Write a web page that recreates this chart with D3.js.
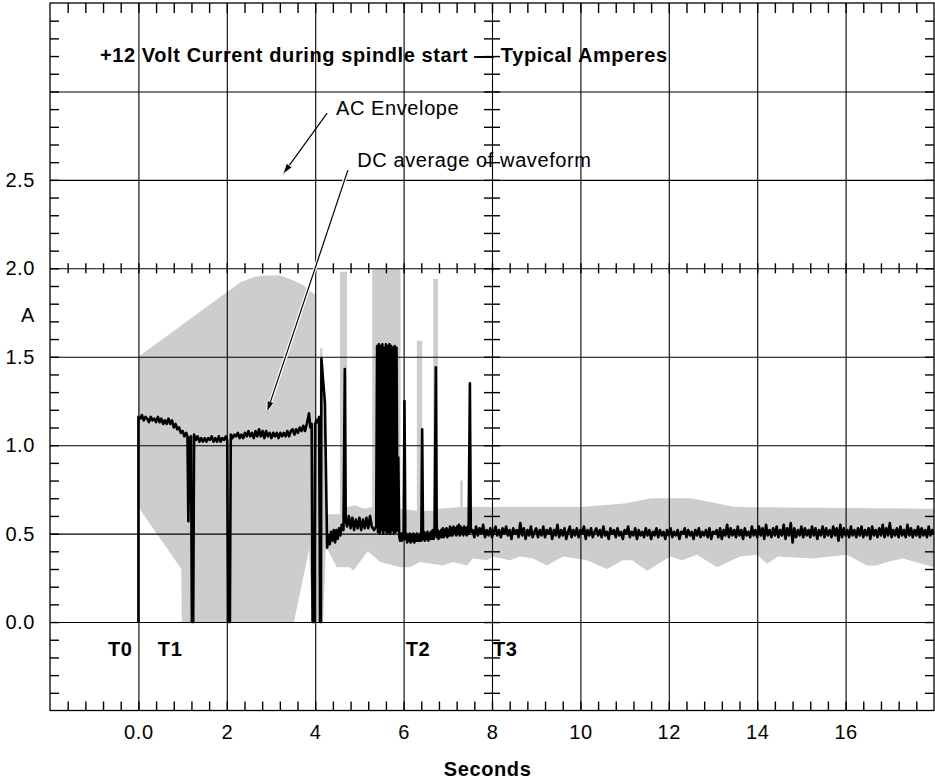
<!DOCTYPE html>
<html>
    <head>
        <title>+12 Volt Current during spindle start</title>
        <script src="https://d3js.org/d3.v7.min.js"></script>

        <style type="text/css">
        body {
          margin: 0;
          background: #ffffff;
        }

        svg text {
          font-family: "Liberation Sans", Arial, Helvetica, sans-serif;
          font-size: 20px;
          letter-spacing: 0.6px;
          fill: #000000;
        }

        svg .bold {
          font-weight: bold;
        }

        svg .envelope {
          fill: #cdcdcd;
          stroke: none;
        }

        svg .dc {
          fill: none;
          stroke: #000000;
          stroke-width: 2.6;
          stroke-linejoin: round;
        }

        svg .grid line {
          stroke: #000000;
          stroke-width: 1.1;
        }

        svg .minor line {
          stroke: #000000;
          stroke-width: 1.4;
        }
        </style>
    </head>

    <body>

        <script type="text/javascript">

            // axis labels
            var xLabelTicks = [0, 2, 4, 6, 8, 10, 12, 14, 16];
            var xLabelText = ["0.0", "2", "4", "6", "8", "10", "12", "14", "16"];
            var yLabelTicks = [0, 0.5, 1.0, 1.5, 2.0, 2.5];
            var xGrid = [0, 2, 4, 6, 8, 10, 12, 14, 16];
            var yGrid = [0, 0.5, 1.0, 1.5, 2.0, 2.5, 3.0];

            // time markers
            var markerNames = ["T0", "T1", "T2", "T3"];
            var markerTimes = [-0.69, 0.44, 6.05, 8.02];

            // AC envelope, upper edge [seconds, amps]
            var envUpper = [
              [0, 1.5], [2.3, 1.92], [2.6, 1.95], [2.82, 1.96], [3.2, 1.96], [3.43, 1.94],
              [3.7, 1.91], [3.95, 1.86], [4.0, 1.85], [4.0, 1.16], [4.1, 1.16], [4.11, 1.55],
              [4.16, 1.55], [4.22, 1.2], [4.26, 0.61], [4.5, 0.61], [4.56, 0.61], [4.56, 1.98],
              [4.72, 1.98], [4.72, 0.65], [4.9, 0.66], [5.1, 0.64], [5.29, 0.65], [5.29, 2.0],
              [5.93, 2.0], [5.93, 0.64], [6.3, 0.63], [6.3, 1.59], [6.42, 1.59], [6.42, 0.63],
              [6.67, 0.63], [6.67, 1.94], [6.78, 1.94], [6.78, 0.64], [7.28, 0.65], [7.28, 0.8],
              [7.34, 0.8], [7.34, 0.65], [8, 0.65], [10, 0.65], [11, 0.67], [11.6, 0.7],
              [12.5, 0.7], [13.5, 0.65], [18, 0.64]
            ];

            // AC envelope, lower edge [seconds, amps]
            var envLower = [
              [0, 0.65], [0.97, 0.3], [0.98, 0], [3.52, 0], [3.86, 0.41], [3.93, 0],
              [4.18, 0], [4.24, 0.42], [4.28, 0.41], [4.49, 0.31], [4.79, 0.31], [4.86, 0.29],
              [5.19, 0.4], [5.47, 0.34], [5.92, 0.31], [6.14, 0.31], [6.37, 0.34], [6.89, 0.32],
              [7.12, 0.34], [7.43, 0.32], [7.57, 0.36], [7.89, 0.35], [8.02, 0.37], [8.41, 0.35],
              [8.63, 0.37], [8.93, 0.36], [9.24, 0.32], [9.61, 0.37], [10.15, 0.35], [10.6, 0.3],
              [10.96, 0.35], [11.17, 0.35], [11.51, 0.29], [12.03, 0.37], [12.3, 0.35], [12.64, 0.38],
              [13.09, 0.31], [13.61, 0.37], [14.0, 0.38], [14.22, 0.33], [14.47, 0.37], [15.26, 0.36],
              [16.03, 0.38], [16.48, 0.32], [16.71, 0.32], [16.94, 0.34], [17.3, 0.36], [18, 0.31]
            ];

            // DC average, start-up part [seconds, amps]
            var dcStartup = [
              [0, 0], [0, 1.16], [0.04, 1.15], [0.08, 1.17], [0.12, 1.14], [0.16, 1.16], [0.2, 1.15],
              [0.24, 1.13], [0.28, 1.16], [0.32, 1.14], [0.36, 1.15], [0.4, 1.13], [0.44, 1.16],
              [0.48, 1.13], [0.52, 1.15], [0.56, 1.12], [0.6, 1.14], [0.64, 1.12], [0.68, 1.15],
              [0.72, 1.12], [0.76, 1.14], [0.8, 1.1], [0.84, 1.12], [0.88, 1.09], [0.92, 1.1],
              [0.96, 1.07], [1.0, 1.08], [1.04, 1.05], [1.08, 1.07], [1.11, 1.05], [1.13, 0.57],
              [1.16, 1.04], [1.19, 1.05], [1.21, 0], [1.24, 0], [1.26, 1.06], [1.3, 1.03],
              [1.34, 1.05], [1.38, 1.02], [1.42, 1.04], [1.46, 1.02], [1.5, 1.04], [1.54, 1.02],
              [1.58, 1.04], [1.62, 1.03], [1.66, 1.05], [1.7, 1.02], [1.74, 1.04], [1.78, 1.02],
              [1.82, 1.05], [1.86, 1.02], [1.9, 1.04], [1.94, 1.03], [1.98, 1.05], [2.01, 1.03],
              [2.03, 0], [2.07, 0], [2.09, 1.06], [2.13, 1.04], [2.17, 1.06], [2.21, 1.05],
              [2.25, 1.07], [2.29, 1.04], [2.33, 1.06], [2.37, 1.04], [2.41, 1.07], [2.45, 1.05],
              [2.49, 1.08], [2.53, 1.05], [2.57, 1.07], [2.61, 1.04], [2.65, 1.08], [2.69, 1.05],
              [2.73, 1.09], [2.77, 1.05], [2.81, 1.08], [2.85, 1.04], [2.89, 1.08], [2.93, 1.05],
              [2.97, 1.07], [3.01, 1.04], [3.05, 1.07], [3.09, 1.05], [3.13, 1.07], [3.17, 1.04],
              [3.21, 1.07], [3.25, 1.05], [3.29, 1.07], [3.33, 1.05], [3.37, 1.08], [3.41, 1.05],
              [3.45, 1.08], [3.49, 1.09], [3.53, 1.06], [3.57, 1.09], [3.61, 1.07], [3.65, 1.1],
              [3.69, 1.08], [3.73, 1.11], [3.77, 1.08], [3.81, 1.12], [3.86, 1.18], [3.89, 1.1],
              [3.92, 1.12], [3.94, 0], [3.98, 0], [4.0, 1.12], [4.03, 1.14], [4.06, 1.13],
              [4.09, 1.16], [4.11, 0], [4.13, 0], [4.14, 1.49], [4.22, 1.24], [4.27, 0.42],
              [4.3, 0.49], [4.33, 0.44], [4.36, 0.51], [4.39, 0.46], [4.42, 0.52], [4.45, 0.45],
              [4.48, 0.52], [4.51, 0.47], [4.54, 0.53], [4.57, 0.49], [4.6, 0.55], [4.64, 0.52],
              [4.67, 1.43], [4.69, 0.58], [4.72, 0.54], [4.76, 0.6], [4.8, 0.53], [4.84, 0.59],
              [4.88, 0.52], [4.92, 0.58], [4.96, 0.53], [5.0, 0.59], [5.04, 0.52], [5.08, 0.58],
              [5.12, 0.53], [5.16, 0.59], [5.2, 0.53], [5.24, 0.6], [5.28, 0.54], [5.33, 0.52],
              [5.38, 0.54], [5.4, 1.56], [5.42, 0.51], [5.44, 1.57], [5.46, 0.5], [5.48, 1.56],
              [5.5, 0.52], [5.52, 1.57], [5.54, 0.5], [5.56, 1.55], [5.58, 0.52], [5.6, 1.57],
              [5.62, 0.5], [5.64, 1.56], [5.66, 0.51], [5.68, 1.57], [5.7, 0.5], [5.72, 1.56],
              [5.74, 0.52], [5.76, 1.55], [5.78, 0.5], [5.8, 1.56], [5.82, 0.51], [5.84, 1.55],
              [5.86, 0.52], [5.88, 0.93], [5.9, 0.49], [5.92, 0.46], [5.94, 0.5], [5.96, 0.46],
              [5.98, 0.5], [6.0, 0.47], [6.02, 1.25], [6.04, 0.47], [6.06, 0.5], [6.08, 0.45],
              [6.1, 0.49], [6.12, 0.46], [6.14, 0.5], [6.16, 0.45], [6.18, 0.49], [6.2, 0.46],
              [6.22, 0.5], [6.24, 0.45], [6.26, 0.49], [6.28, 0.46], [6.3, 0.5], [6.32, 0.46],
              [6.34, 0.49], [6.36, 0.46], [6.38, 0.5], [6.4, 0.46], [6.42, 1.09], [6.44, 0.47],
              [6.46, 0.51], [6.48, 0.46], [6.5, 0.5], [6.52, 0.47], [6.54, 0.51], [6.56, 0.46],
              [6.58, 0.5], [6.6, 0.47], [6.62, 0.51], [6.64, 0.47], [6.66, 0.52], [6.68, 0.47],
              [6.7, 0.51], [6.73, 1.44], [6.75, 0.48], [6.77, 0.52], [6.79, 0.47], [6.81, 0.51],
              [6.83, 0.48], [6.85, 0.52], [6.87, 0.48], [6.89, 0.53], [6.91, 0.48], [6.93, 0.52],
              [6.95, 0.49], [6.97, 0.53], [6.99, 0.48], [7.01, 0.52], [7.03, 0.49], [7.05, 0.54],
              [7.07, 0.49], [7.09, 0.53], [7.11, 0.49], [7.13, 0.54], [7.15, 0.5], [7.17, 0.53],
              [7.19, 0.49], [7.21, 0.54], [7.23, 0.5], [7.25, 0.55], [7.27, 0.49], [7.29, 0.54],
              [7.31, 0.5], [7.33, 0.53], [7.35, 0.49], [7.37, 0.54], [7.39, 0.5], [7.41, 0.53],
              [7.43, 0.49], [7.45, 0.54], [7.47, 0.5], [7.5, 1.35], [7.52, 0.51]
            ];

            // DC average, running part [seconds, amps]
            var dcRunning = [
              [7.56, .52], [7.60, .48], [7.64, .54], [7.68, .49], [7.72, .53], [7.76, .50], [7.80, .55], [7.84, .48], [7.88, .52], [7.92, .49],
              [7.96, .53], [8.00, .48], [8.04, .51], [8.08, .54], [8.12, .49], [8.16, .52], [8.20, .48], [8.24, .53], [8.28, .50], [8.32, .54],
              [8.36, .49], [8.40, .52], [8.44, .47], [8.48, .53], [8.52, .50], [8.56, .52], [8.60, .48], [8.64, .56], [8.68, .49], [8.72, .53],
              [8.76, .47], [8.80, .52], [8.84, .49], [8.88, .54], [8.92, .48], [8.96, .51], [9.00, .53], [9.04, .48], [9.08, .52], [9.12, .49],
              [9.16, .54], [9.20, .48], [9.24, .52], [9.28, .50], [9.32, .53], [9.36, .47], [9.40, .52], [9.44, .49], [9.48, .55], [9.52, .48],
              [9.56, .52], [9.60, .49], [9.64, .53], [9.68, .47], [9.72, .51], [9.76, .54], [9.80, .48], [9.84, .52], [9.88, .49], [9.92, .53],
              [9.96, .48], [10.00, .52], [10.04, .50], [10.08, .54], [10.12, .47], [10.16, .52], [10.20, .49], [10.24, .53], [10.28, .48], [10.32, .51],
              [10.36, .53], [10.40, .49], [10.44, .52], [10.48, .48], [10.52, .54], [10.56, .49], [10.60, .51], [10.64, .47], [10.68, .53], [10.72, .50],
              [10.76, .52], [10.80, .48], [10.84, .53], [10.88, .49], [10.92, .51], [10.96, .47], [11.00, .52], [11.04, .50], [11.08, .54], [11.12, .48],
              [11.16, .51], [11.20, .49], [11.24, .53], [11.28, .47], [11.32, .52], [11.36, .49], [11.40, .51], [11.44, .48], [11.48, .53], [11.52, .49],
              [11.56, .52], [11.60, .47], [11.64, .51], [11.68, .49], [11.72, .53], [11.76, .48], [11.80, .52], [11.84, .49], [11.88, .51], [11.92, .47],
              [11.96, .52], [12.00, .49], [12.04, .53], [12.08, .48], [12.12, .51], [12.16, .49], [12.20, .52], [12.24, .47], [12.28, .51], [12.32, .50],
              [12.36, .53], [12.40, .48], [12.44, .52], [12.48, .49], [12.52, .51], [12.56, .47], [12.60, .52], [12.64, .49], [12.68, .53], [12.72, .48],
              [12.76, .51], [12.80, .49], [12.84, .52], [12.88, .48], [12.92, .53], [12.96, .47], [13.00, .51], [13.04, .50], [13.08, .52], [13.12, .48],
              [13.16, .53], [13.20, .47], [13.24, .52], [13.28, .49], [13.32, .55], [13.36, .48], [13.40, .53], [13.44, .49], [13.48, .52], [13.52, .48],
              [13.56, .54], [13.60, .49], [13.64, .52], [13.68, .47], [13.72, .53], [13.76, .49], [13.80, .51], [13.84, .48], [13.88, .54], [13.92, .49],
              [13.96, .52], [14.00, .48], [14.04, .54], [14.08, .49], [14.12, .53], [14.16, .47], [14.20, .55], [14.24, .49], [14.28, .52], [14.32, .48],
              [14.36, .53], [14.40, .49], [14.44, .54], [14.48, .48], [14.52, .52], [14.56, .49], [14.60, .55], [14.64, .47], [14.68, .53], [14.72, .49],
              [14.76, .56], [14.80, .45], [14.84, .53], [14.88, .48], [14.92, .52], [14.96, .49], [15.00, .54], [15.04, .48], [15.08, .53], [15.12, .49],
              [15.16, .52], [15.20, .48], [15.24, .54], [15.28, .49], [15.32, .53], [15.36, .47], [15.40, .52], [15.44, .49], [15.48, .54], [15.52, .48],
              [15.56, .53], [15.60, .49], [15.64, .52], [15.68, .48], [15.72, .54], [15.76, .49], [15.80, .53], [15.84, .46], [15.88, .55], [15.92, .48],
              [15.96, .53], [16.00, .49], [16.04, .52], [16.08, .48], [16.12, .54], [16.16, .49], [16.20, .52], [16.24, .48], [16.28, .53], [16.32, .49],
              [16.36, .54], [16.40, .48], [16.44, .52], [16.48, .49], [16.52, .53], [16.56, .47], [16.60, .54], [16.64, .49], [16.68, .52], [16.72, .48],
              [16.76, .53], [16.80, .49], [16.84, .55], [16.88, .48], [16.92, .53], [16.96, .49], [17.00, .56], [17.04, .48], [17.08, .52], [17.12, .49],
              [17.16, .53], [17.20, .48], [17.24, .54], [17.28, .49], [17.32, .52], [17.36, .48], [17.40, .55], [17.44, .49], [17.48, .53], [17.52, .48],
              [17.56, .52], [17.60, .49], [17.64, .54], [17.68, .48], [17.72, .53], [17.76, .49], [17.80, .52], [17.84, .48], [17.88, .54], [17.92, .49],
              [17.96, .52], [18.00, .50]
            ];

            var left = 50, right = 934, plotTop = 3, bottom = 710.5;

            var svg = d3.select("body")
                        .append("svg")
                        .attr("width", 935)
                        .attr("height", 782);

            var x = d3.scaleLinear().domain([-2, 18]).range([left, right]);
            var y = d3.scaleLinear().domain([-0.5, 3.5]).range([bottom, plotTop]);

            var defs = svg.append("defs");
            defs.append("clipPath")
                .attr("id", "plot")
                .append("rect")
                .attr("x", left)
                .attr("y", plotTop)
                .attr("width", right - left)
                .attr("height", bottom - plotTop);

            defs.append("marker")
                .attr("id", "head")
                .attr("viewBox", "0 -5 12 10")
                .attr("refX", 11)
                .attr("refY", 0)
                .attr("markerUnits", "userSpaceOnUse")
                .attr("markerWidth", 12)
                .attr("markerHeight", 10)
                .attr("orient", "auto")
                .append("path")
                .attr("d", "M0,-3.5L11,0L0,3.5Z")
                .attr("fill", "#000")
                .attr("stroke", "#fff")
                .attr("stroke-width", 0.8);

            var line = d3.line()
                         .x(function(d) { return x(d[0]); })
                         .y(function(d) { return y(d[1]); });

            // grey AC envelope
            svg.append("path")
                .attr("class", "envelope")
                .attr("clip-path", "url(#plot)")
                .attr("d", line(envUpper.concat(envLower.slice().reverse())) + "Z");

            // major grid
            svg.append("g")
                .attr("class", "grid")
                .attr("transform", "translate(0," + bottom + ")")
                .call(d3.axisBottom(x).tickValues(xGrid).tickSize(-(bottom - plotTop)).tickFormat(""))
                .call(function(g) { g.select(".domain").remove(); });

            svg.append("g")
                .attr("class", "grid")
                .attr("transform", "translate(" + left + ",0)")
                .call(d3.axisLeft(y).tickValues(yGrid).tickSize(-(right - left)).tickFormat(""))
                .call(function(g) { g.select(".domain").remove(); });

            // minor tick positions: every 0.4 s and every 0.1 A
            var minorX = [];
            for (var i = 1; i < 50; i++) {
              minorX.push(Math.round((-2 + i * 0.4) * 10) / 10);
            }
            var minorY = [];
            for (var j = 1; j < 40; j++) {
              minorY.push(Math.round((-0.5 + j * 0.1) * 10) / 10);
            }

            // minor ticks, built the same way as the major grid
            function minorAxis(axis, tx, ty) {
              svg.append("g")
                  .attr("class", "minor")
                  .attr("transform", "translate(" + tx + "," + ty + ")")
                  .call(axis.tickSizeOuter(0).tickFormat(""))
                  .call(function(g) { g.select(".domain").remove(); });
            }

            minorAxis(d3.axisTop(x).tickValues(minorX).tickSizeInner(-10), 0, plotTop);
            minorAxis(d3.axisBottom(x).tickValues(minorX).tickSizeInner(-9), 0, bottom);
            minorAxis(d3.axisBottom(x).tickValues(minorX).tickSizeInner(-10), 0, y(2.0) + 5);
            minorAxis(d3.axisLeft(y).tickValues(minorY).tickSizeInner(-9), left, 0);
            minorAxis(d3.axisRight(y).tickValues(minorY).tickSizeInner(-9), right, 0);
            minorAxis(d3.axisRight(y).tickValues(minorY).tickSizeInner(16), x(8) - 8, 0);

            // frame
            svg.append("rect")
                .attr("x", left)
                .attr("y", plotTop)
                .attr("width", right - left)
                .attr("height", bottom - plotTop)
                .attr("fill", "none")
                .attr("stroke", "#000")
                .attr("stroke-width", 1.3);

            // DC average
            svg.append("path")
                .attr("class", "dc")
                .attr("clip-path", "url(#plot)")
                .attr("d", line(dcStartup.concat(dcRunning)));

            // tick labels
            svg.append("g")
                .attr("transform", "translate(0," + bottom + ")")
                .call(d3.axisBottom(x).tickValues(xLabelTicks).tickSize(0).tickPadding(14)
                        .tickFormat(function(d, k) { return xLabelText[k]; }))
                .call(function(g) { g.select(".domain").remove(); });

            svg.append("g")
                .attr("transform", "translate(" + left + ",0)")
                .call(d3.axisLeft(y).tickValues(yLabelTicks).tickSize(0).tickPadding(15)
                        .tickFormat(d3.format(".1f")))
                .call(function(g) { g.select(".domain").remove(); });

            svg.append("text")
                .attr("x", left - 15)
                .attr("y", y(1.73) + 6.4)
                .attr("text-anchor", "end")
                .text("A");

            svg.append("text")
                .attr("class", "bold")
                .attr("x", x(7.9))
                .attr("y", 776)
                .attr("text-anchor", "middle")
                .text("Seconds");

            // title
            svg.append("text")
                .attr("class", "bold")
                .attr("x", x(-0.87))
                .attr("y", y(3.166))
                .text("+12 Volt Current during spindle start \u2014 Typical Amperes");

            // time markers
            svg.selectAll("text.marker")
                .data(markerNames)
                .enter()
                .append("text")
                .attr("class", "marker bold")
                .attr("x", function(d, k) { return x(markerTimes[k]); })
                .attr("y", y(-0.192))
                .text(function(d) { return d; });

            // annotations
            svg.append("path")
                .attr("d", line([[4.27, 2.877], [3.27, 2.532]]))
                .attr("stroke", "#000")
                .attr("stroke-width", 1.2)
                .attr("marker-end", "url(#head)");

            svg.append("text")
                .attr("x", x(4.47))
                .attr("y", y(2.866))
                .text("AC Envelope");

            svg.append("path")
                .attr("d", line([[4.74, 2.555], [2.93, 1.2]]))
                .attr("stroke", "#fff")
                .attr("stroke-width", 3.6);

            svg.append("path")
                .attr("d", line([[4.74, 2.555], [2.91, 1.187]]))
                .attr("stroke", "#000")
                .attr("stroke-width", 1.2)
                .attr("marker-end", "url(#head)");

            svg.append("text")
                .attr("x", x(4.95))
                .attr("y", y(2.572))
                .text("DC average of waveform");

        </script>

    </body>
</html>
